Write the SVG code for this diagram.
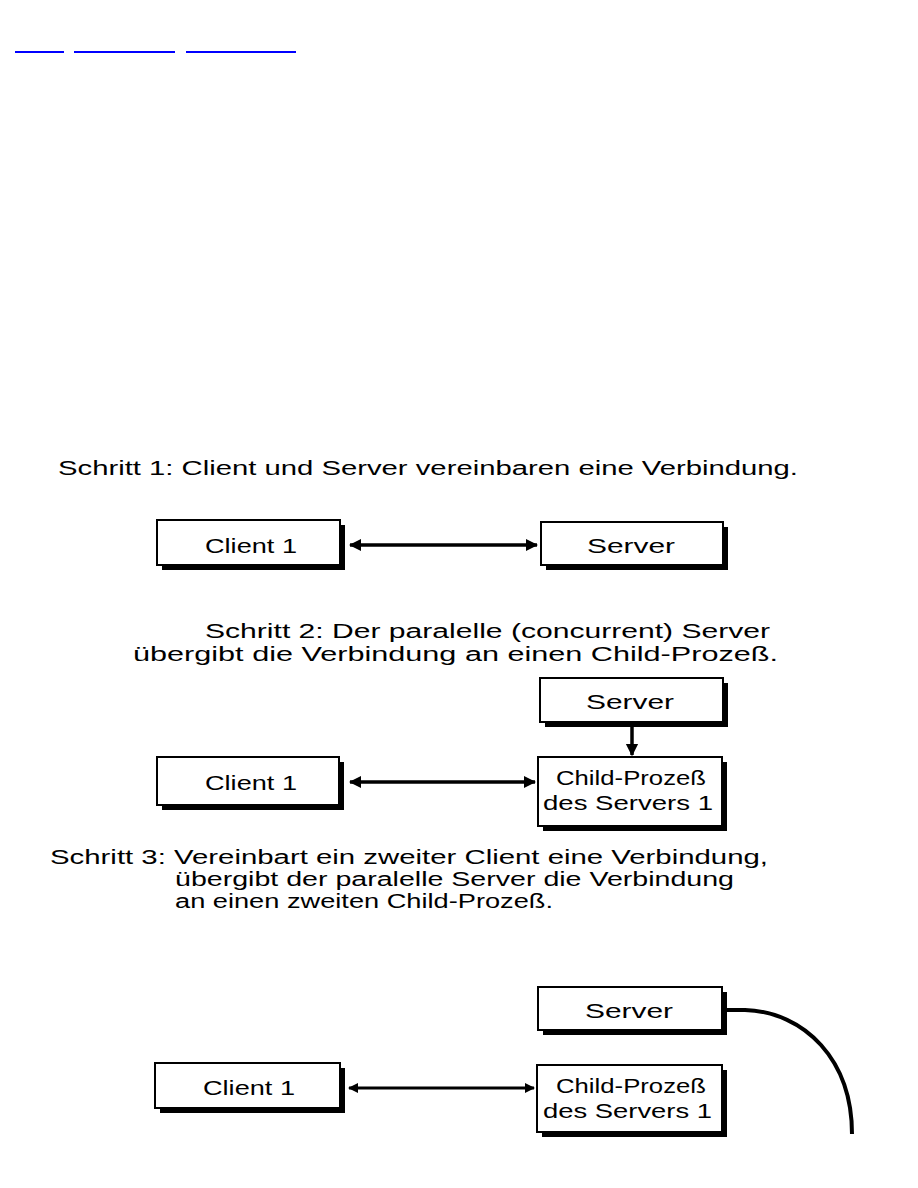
<svg xmlns="http://www.w3.org/2000/svg" width="918" height="1188" viewBox="0 0 918 1188">
<style>
.bg{fill:#fff}
.box{fill:#fff;stroke:#000;stroke-width:2}
.sh{fill:#000}
.t{font-family:"Liberation Sans",Arial,sans-serif;fill:#000}
.h{font-size:20px}
.l{font-size:21px}
.link{stroke:#0000ff;stroke-width:2}
.con{stroke:#000;fill:none}
</style>
<defs>
<marker id="ah" viewBox="0 0 10 10" refX="9" refY="5" markerWidth="3.5" markerHeight="4" orient="auto-start-reverse" markerUnits="strokeWidth">
<path d="M0,0 L10,5 L0,10 z" fill="#000"/>
</marker>
</defs>
<rect class="bg" x="0" y="0" width="918" height="1188"/>
<g id="links">
<line class="link" x1="15" y1="52" x2="64" y2="52"/>
<line class="link" x1="74" y1="52" x2="175" y2="52"/>
<line class="link" x1="186" y1="52" x2="296" y2="52"/>
</g>
<g id="captions">
<text class="t h" x="58" y="475" textLength="740" lengthAdjust="spacingAndGlyphs">Schritt 1: Client und Server vereinbaren eine Verbindung.</text>
<text class="t h" x="205" y="638" textLength="565" lengthAdjust="spacingAndGlyphs">Schritt 2: Der paralelle (concurrent) Server</text>
<text class="t h" x="133" y="661" textLength="645" lengthAdjust="spacingAndGlyphs">übergibt die Verbindung an einen Child-Prozeß.</text>
<text class="t h" x="50" y="864" textLength="718" lengthAdjust="spacingAndGlyphs">Schritt 3: Vereinbart ein zweiter Client eine Verbindung,</text>
<text class="t h" x="175" y="886" textLength="559" lengthAdjust="spacingAndGlyphs">übergibt der paralelle Server die Verbindung</text>
<text class="t h" x="175" y="908" textLength="378" lengthAdjust="spacingAndGlyphs">an einen zweiten Child-Prozeß.</text>
</g>
<g id="s1-client">
<rect class="sh" x="162" y="525" width="183" height="45"/>
<rect class="box" x="157" y="520" width="183" height="45"/>
<text class="t l" x="205" y="553" textLength="92" lengthAdjust="spacingAndGlyphs">Client 1</text>
</g>
<g id="s1-server">
<rect class="sh" x="546" y="527" width="182" height="43"/>
<rect class="box" x="541" y="522" width="182" height="43"/>
<text class="t l" x="587" y="553" textLength="88" lengthAdjust="spacingAndGlyphs">Server</text>
</g>
<g id="s2-server">
<rect class="sh" x="545" y="683" width="183" height="44"/>
<rect class="box" x="540" y="678" width="183" height="44"/>
<text class="t l" x="586" y="709" textLength="88" lengthAdjust="spacingAndGlyphs">Server</text>
</g>
<g id="s2-client">
<rect class="sh" x="162" y="762" width="182" height="48"/>
<rect class="box" x="157" y="757" width="182" height="48"/>
<text class="t l" x="205" y="790" textLength="92" lengthAdjust="spacingAndGlyphs">Client 1</text>
</g>
<g id="s2-child">
<rect class="sh" x="543" y="762" width="184" height="69"/>
<rect class="box" x="538" y="757" width="184" height="69"/>
<text class="t l" x="556" y="785" textLength="150" lengthAdjust="spacingAndGlyphs">Child-Prozeß</text>
<text class="t l" x="543" y="810" textLength="170" lengthAdjust="spacingAndGlyphs">des Servers  1</text>
</g>
<g id="s3-server">
<rect class="sh" x="543" y="992" width="184" height="43"/>
<rect class="box" x="538" y="987" width="184" height="43"/>
<text class="t l" x="585" y="1018" textLength="88" lengthAdjust="spacingAndGlyphs">Server</text>
</g>
<g id="s3-client">
<rect class="sh" x="160" y="1068" width="185" height="45"/>
<rect class="box" x="155" y="1063" width="185" height="45"/>
<text class="t l" x="203" y="1095" textLength="92" lengthAdjust="spacingAndGlyphs">Client 1</text>
</g>
<g id="s3-child">
<rect class="sh" x="542" y="1070" width="185" height="67"/>
<rect class="box" x="537" y="1065" width="185" height="67"/>
<text class="t l" x="556" y="1093" textLength="150" lengthAdjust="spacingAndGlyphs">Child-Prozeß</text>
<text class="t l" x="543" y="1118" textLength="169" lengthAdjust="spacingAndGlyphs">des Servers 1</text>
</g>
<g id="connectors">
<line class="con" x1="350" y1="545" x2="537" y2="545" stroke-width="3.5" marker-start="url(#ah)" marker-end="url(#ah)"/>
<line class="con" x1="350" y1="782" x2="535" y2="782" stroke-width="3.5" marker-start="url(#ah)" marker-end="url(#ah)"/>
<line class="con" x1="632" y1="727" x2="632" y2="755" stroke-width="3.5" marker-end="url(#ah)"/>
<line class="con" x1="349" y1="1088" x2="534" y2="1088" stroke-width="3" marker-start="url(#ah)" marker-end="url(#ah)"/>
<path class="con" d="M727,1010 L745,1010 C805,1012 852,1060 852,1134" stroke-width="4"/>
</g>
</svg>
